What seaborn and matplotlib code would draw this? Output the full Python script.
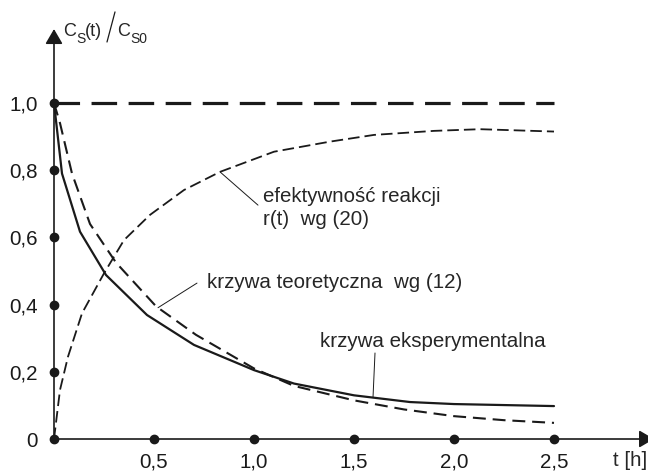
import numpy as np
import pandas as pd
import matplotlib
matplotlib.use("Agg")
import matplotlib.pyplot as plt
import seaborn as sns

# experimental substrate concentration ratio C_S(t)/C_S0
t_exp = [0.0, 0.04, 0.13, 0.26, 0.465, 0.70, 1.0, 1.2, 1.5, 1.78, 2.0, 2.5]
c_exp = [1.0, 0.79, 0.617, 0.488, 0.369, 0.28, 0.205, 0.165, 0.13, 0.11, 0.104, 0.098]

# theoretical curve, eq. (12)
t_teo = [0.0, 0.03, 0.09, 0.18, 0.31, 0.51, 0.71, 1.0, 1.2, 1.5, 1.75, 2.0, 2.25, 2.5]
c_teo = [1.0, 0.94, 0.79, 0.64, 0.525, 0.395, 0.31, 0.21, 0.158, 0.115, 0.088, 0.068, 0.056, 0.048]

# reaction efficiency r(t), eq. (20)
t_eff = [0.0, 0.03, 0.07, 0.14, 0.25, 0.35, 0.48, 0.65, 0.83, 1.1, 1.38, 1.6, 1.9, 2.13, 2.5]
r_eff = [0.0, 0.146, 0.245, 0.374, 0.493, 0.592, 0.667, 0.741, 0.795, 0.855, 0.885, 0.905, 0.917, 0.922, 0.915]

# reference level
t_ref = [0.0, 2.5]
c_ref = [1.0, 1.0]

x_ticks = [0.5, 1.0, 1.5, 2.0, 2.5]
x_labels = ["0,5", "1,0", "1,5", "2,0", "2,5"]
y_ticks = [0.0, 0.2, 0.4, 0.6, 0.8, 1.0]
y_labels = ["0", "0,2", "0,4", "0,6", "0,8", "1,0"]

sns.set_theme(style="white")
plt.rcParams["font.family"] = ["Liberation Sans", "DejaVu Sans"]

FS = 14.8
fig = plt.figure(figsize=(6.48, 4.72), dpi=100)
ax = fig.add_axes([0, 0, 1, 1])
ax.set_xlim(-0.27, 2.97)
ax.set_ylim(-0.0982, 1.3065)
for s in ax.spines.values():
    s.set_visible(False)
ax.spines["left"].set_position(("data", 0))
ax.spines["bottom"].set_position(("data", 0))
ax.grid(False)

# curves
sns.lineplot(x=t_ref, y=c_ref, ax=ax, color="k", lw=2.3, sort=False,
             estimator=None, linestyle=(0, (8.0, 3.6)))
sns.lineplot(x=t_teo, y=c_teo, ax=ax, color="k", lw=1.5, sort=False,
             estimator=None, linestyle=(0, (6.2, 3.3)))
sns.lineplot(x=t_eff, y=r_eff, ax=ax, color="k", lw=1.3, sort=False,
             estimator=None, linestyle=(0, (6.4, 2.8)))
sns.lineplot(x=t_exp, y=c_exp, ax=ax, color="k", lw=1.6, sort=False,
             estimator=None)

# axes with arrow heads
arrow = dict(arrowstyle="-|>,head_length=0.6,head_width=0.35", color="k",
             lw=1.2, mutation_scale=15, shrinkA=0, shrinkB=0)
ax.annotate("", xy=(0, 1.22), xytext=(0, 0), arrowprops=arrow)
ax.annotate("", xy=(3.0, 0), xytext=(0, 0), arrowprops=arrow, annotation_clip=False)

# tick dots
ax.scatter([0] * len(y_ticks), y_ticks, s=36, color="k", zorder=5, clip_on=False)
ax.scatter(x_ticks, [0] * len(x_ticks), s=36, color="k", zorder=5)

ax.set_xticks(x_ticks, x_labels)
ax.set_yticks(y_ticks, y_labels)
ax.tick_params(axis="both", length=0, labelsize=FS, colors="k")
ax.tick_params(axis="y", pad=11.5)
ax.tick_params(axis="x", pad=9.5)

ax.text(2.88, -0.036, "t [h]", fontsize=FS, ha="center", va="top")

# axis title C_S(t) / C_S0
TS, SS = 13, 10
ax.text(0.045, 1.199, "C", fontsize=TS, ha="left", va="baseline")
ax.text(0.110, 1.1786, "S", fontsize=SS, ha="left", va="baseline")
ax.text(0.155, 1.199, "(t)", fontsize=TS, ha="left", va="baseline")
ax.plot([0.265, 0.305], [1.1815, 1.271], color="k", lw=0.9)
ax.text(0.315, 1.199, "C", fontsize=TS, ha="left", va="baseline")
ax.text(0.380, 1.1786, "S0", fontsize=SS, ha="left", va="baseline")

# leader lines and labels
lead = dict(arrowstyle="-", color="k", lw=0.7, shrinkA=0, shrinkB=0)
te = 0.83
ax.annotate("", xy=(te, np.interp(te, t_eff, r_eff)), xytext=(1.02, 0.696), arrowprops=lead)
ax.text(1.045, 0.705, "efektywność reakcji", fontsize=FS, ha="left", va="baseline")
ax.text(1.045, 0.637, "r(t)  wg (20)", fontsize=FS, ha="left", va="baseline")

tt = 0.52
ax.annotate("", xy=(tt, np.interp(tt, t_teo, c_teo)), xytext=(0.715, 0.464), arrowprops=lead)
ax.text(0.765, 0.449, "krzywa teoretyczna  wg (12)", fontsize=FS, ha="left", va="baseline")

tx = 1.595
ax.annotate("", xy=(tx, np.interp(tx, t_exp, c_exp)), xytext=(1.605, 0.256), arrowprops=lead)
ax.text(1.33, 0.274, "krzywa eksperymentalna", fontsize=FS, ha="left", va="baseline")

fig.savefig("out.png", dpi=100)
